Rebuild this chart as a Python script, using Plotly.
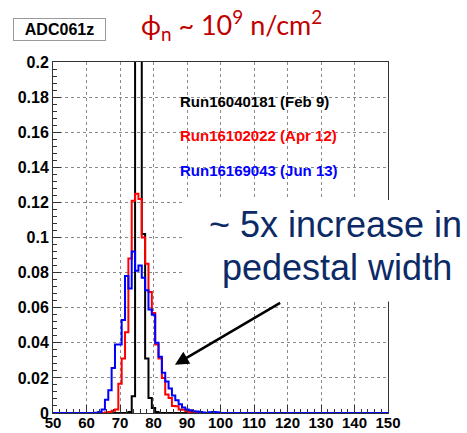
import plotly.graph_objects as go

# ---- data (bin centres = ADC value, bin width 1) ----
adc = list(range(60, 101))

feb9 = [0, 0, 0, 0, 0, 0, 0, 0, 0, 0,          # 60-69
        0, 0, 0, 0.0005, 0.0095, 0.27, 0.24, 0.102, 0.031, 0.0086,   # 70-79
        0.0029, 0.0006, 0, 0, 0, 0, 0, 0, 0, 0,   # 80-89
        0, 0, 0, 0, 0, 0, 0, 0, 0, 0,             # 90-99
        0]                                        # 100

apr12 = [0, 0, 0, 0, 0, 0, 0.0003, 0.0006, 0.0013, 0.002,          # 60-69
         0.0166, 0.031, 0.046, 0.088, 0.121, 0.125, 0.122, 0.100, 0.085, 0.069,  # 70-79
         0.057, 0.039, 0.031, 0.020, 0.0105, 0.0086, 0.004, 0.0038, 0.002, 0.0019,  # 80-89
         0.001, 0.0005, 0.0005, 0.0002, 0, 0, 0, 0, 0, 0,      # 90-99
         0]

jun13 = [0, 0, 0, 0.0002, 0.0005, 0.002, 0.0076, 0.013, 0.0257, 0.039,   # 60-69
         0.039, 0.053, 0.078, 0.071, 0.092, 0.081, 0.084, 0.077, 0.070, 0.059,  # 70-79
         0.056, 0.040, 0.032, 0.023, 0.018, 0.014, 0.010, 0.0072, 0.005, 0.0032,  # 80-89
         0.002, 0.0015, 0.001, 0.0008, 0.0005, 0.0003, 0, 0.0004, 0.0005, 0.0004,  # 90-99
         0]

series_names = ["Run16040181 (Feb 9)", "Run16102022 (Apr 12)", "Run16169043 (Jun 13)"]
series_colors = ["#000000", "#ff0000", "#0000ff"]
x_range = [50, 150]
y_range = [0, 0.2]

# plot-area geometry in pixels (for paper-coordinate placement of decorations)
L, R, T, B = 53, 388, 62, 413
W, H = R - L, B - T


def px(xp):
    return (xp - L) / W


def py(yp):
    return (B - yp) / H


fig = go.Figure()
for name, col, vals in zip(series_names, series_colors, [feb9, apr12, jun13]):
    xs = [x_range[0]] + adc + [x_range[1]]
    ys = [0] + vals + [0]
    fig.add_trace(go.Scatter(x=xs, y=ys, mode="lines", name=name,
                             line=dict(color=col, width=2, shape="hvh"),
                             showlegend=False, hoverinfo="skip"))

axcommon = dict(showline=True, linecolor="#333", linewidth=1, mirror=True,
                showgrid=True, gridcolor="#8a8a8a", gridwidth=1, griddash="dot",
                ticks="inside", ticklen=8, tickcolor="#333",
                zeroline=False, automargin=False)

fig.update_xaxes(range=x_range, tick0=50, dtick=10, ticklabelstandoff=-4,
                 tickfont=dict(family="Liberation Sans", size=15, color="black", weight=700),
                 minor=dict(ticks="inside", ticklen=4, dtick=2, tickcolor="#333", showgrid=False),
                 **axcommon)
fig.update_yaxes(range=y_range, tick0=0, dtick=0.02,
                 tickfont=dict(family="Liberation Sans", size=16, color="black", weight=700),
                 minor=dict(ticks="inside", ticklen=4, dtick=0.004, tickcolor="#333", showgrid=False),
                 **axcommon)

# white box of the overlaid slide text (covers grid and frame)
fig.add_shape(type="rect", xref="paper", yref="paper",
              x0=px(183), x1=px(470), y0=py(301.5), y1=py(200),
              fillcolor="white", line=dict(width=0), layer="above")

# legend texts
for name, col, yp in zip(series_names, series_colors, [101, 135, 170]):
    fig.add_annotation(text=name, xref="paper", yref="paper", x=px(178), y=py(yp),
                       xanchor="left", yanchor="middle", showarrow=False,
                       font=dict(family="Liberation Sans", size=15, color=col, weight=700))

# histogram title box
fig.add_annotation(text="ADC061z", xref="paper", yref="paper", x=px(59.5), y=py(29.5),
                   xanchor="center", yanchor="middle", showarrow=False,
                   width=89, height=19, bordercolor="#9a9a9a", borderwidth=1,
                   bgcolor="white",
                   font=dict(family="Liberation Sans", size=16, color="black", weight=700))

# fluence title
fig.add_annotation(text="ϕ<sub>n</sub> ~ 10<sup>9</sup> n/cm<sup>2</sup>",
                   xref="paper", yref="paper", x=px(231.5), y=py(25),
                   xanchor="center", yanchor="middle", showarrow=False,
                   font=dict(family="Lato", size=27, color="#c00000"))

# slide comment (two lines placed separately)
for line, xc, yc in [("~ 5x increase in", 335.5, 224), ("pedestal width", 336.5, 267)]:
    fig.add_annotation(text=line, xref="paper", yref="paper", x=px(xc), y=py(yc),
                       xanchor="center", yanchor="middle", showarrow=False,
                       font=dict(family="Liberation Sans", size=36, color="#0b2a66"))

# arrow
fig.add_annotation(text="", x=86.4, y=0.0275, xref="x", yref="y",
                   ax=106.7, ay=-62.8, showarrow=True,
                   arrowhead=2, arrowsize=1.1, arrowwidth=2.5, arrowcolor="black")

fig.update_layout(width=467, height=433, autosize=False,
                  margin=dict(l=L, r=467 - R, t=T, b=433 - B),
                  paper_bgcolor="white", plot_bgcolor="white")

fig.write_html("out.html")
